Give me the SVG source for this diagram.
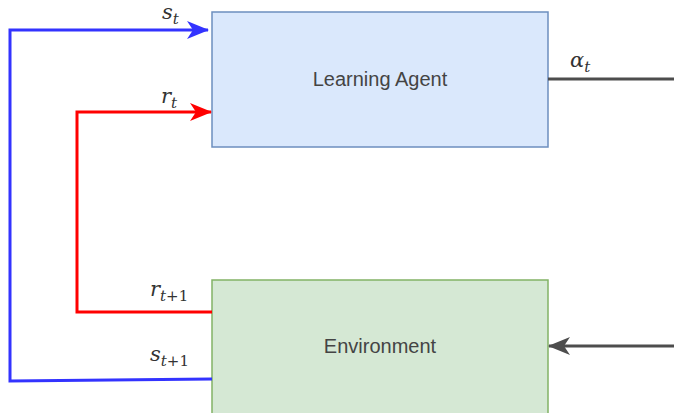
<svg xmlns="http://www.w3.org/2000/svg" width="674" height="413" viewBox="0 0 674 413">
<style>
.lbl{font-family:"Liberation Sans",Arial,sans-serif;font-size:20px;fill:#444444;text-anchor:middle;dominant-baseline:central}
.m{font-family:"DejaVu Serif","Liberation Serif",serif;font-style:italic;font-size:21px;fill:#333333}
.sub{font-family:"DejaVu Serif","Liberation Serif",serif;font-style:normal;font-size:15px;fill:#333333}
.subi{font-family:"DejaVu Serif","Liberation Serif",serif;font-style:italic;font-size:15px;fill:#333333}
.c{fill:none;stroke-width:3}
</style>
<defs>
<marker id="ab" viewBox="0 0 22 18" refX="21" refY="9" markerWidth="22" markerHeight="18" markerUnits="userSpaceOnUse" orient="auto"><path d="M0,0 L22,9 L0,18 L6,9 Z" fill="#3333ff"/></marker>
<marker id="ar" viewBox="0 0 22 18" refX="21" refY="9" markerWidth="22" markerHeight="18" markerUnits="userSpaceOnUse" orient="auto"><path d="M0,0 L22,9 L0,18 L6,9 Z" fill="#ff0000"/></marker>
<marker id="ag" viewBox="0 0 22 18" refX="21" refY="9" markerWidth="22" markerHeight="18" markerUnits="userSpaceOnUse" orient="auto"><path d="M0,0 L22,9 L0,18 L6,9 Z" fill="#4d4d4d"/></marker>
</defs>
<g id="agent">
<rect x="212" y="12" width="336" height="135" fill="#dae8fc" stroke="#6c8ebf" stroke-width="1.5"/>
<text class="lbl" x="380" y="79">Learning Agent</text>
</g>
<g id="environment">
<rect x="212" y="280" width="336" height="140" fill="#d5e8d4" stroke="#82b366" stroke-width="1.5"/>
<text class="lbl" x="380" y="346">Environment</text>
</g>
<g id="connectors">
<path class="c" stroke="#3333ff" d="M212,379 L10,381 L10,30 L208,30" marker-end="url(#ab)"/>
<path class="c" stroke="#ff0000" d="M212,312 L77,312 L77,112 L211,112" marker-end="url(#ar)"/>
<path class="c" stroke="#4d4d4d" d="M548,79 L674,79"/>
<path class="c" stroke="#4d4d4d" d="M674,346 L549,346" marker-end="url(#ag)"/>
</g>
<g id="labels">
<text class="m" x="162" y="19">s<tspan class="subi" dy="5">t</tspan></text>
<text class="m" x="161" y="103">r<tspan class="subi" dy="5">t</tspan></text>
<text class="m" x="570" y="67">α<tspan class="subi" dy="5">t</tspan></text>
<text class="m" x="150" y="296">r<tspan class="subi" dy="5">t</tspan><tspan class="sub">+1</tspan></text>
<text class="m" x="150" y="361">s<tspan class="subi" dy="5">t</tspan><tspan class="sub">+1</tspan></text>
</g>
</svg>
